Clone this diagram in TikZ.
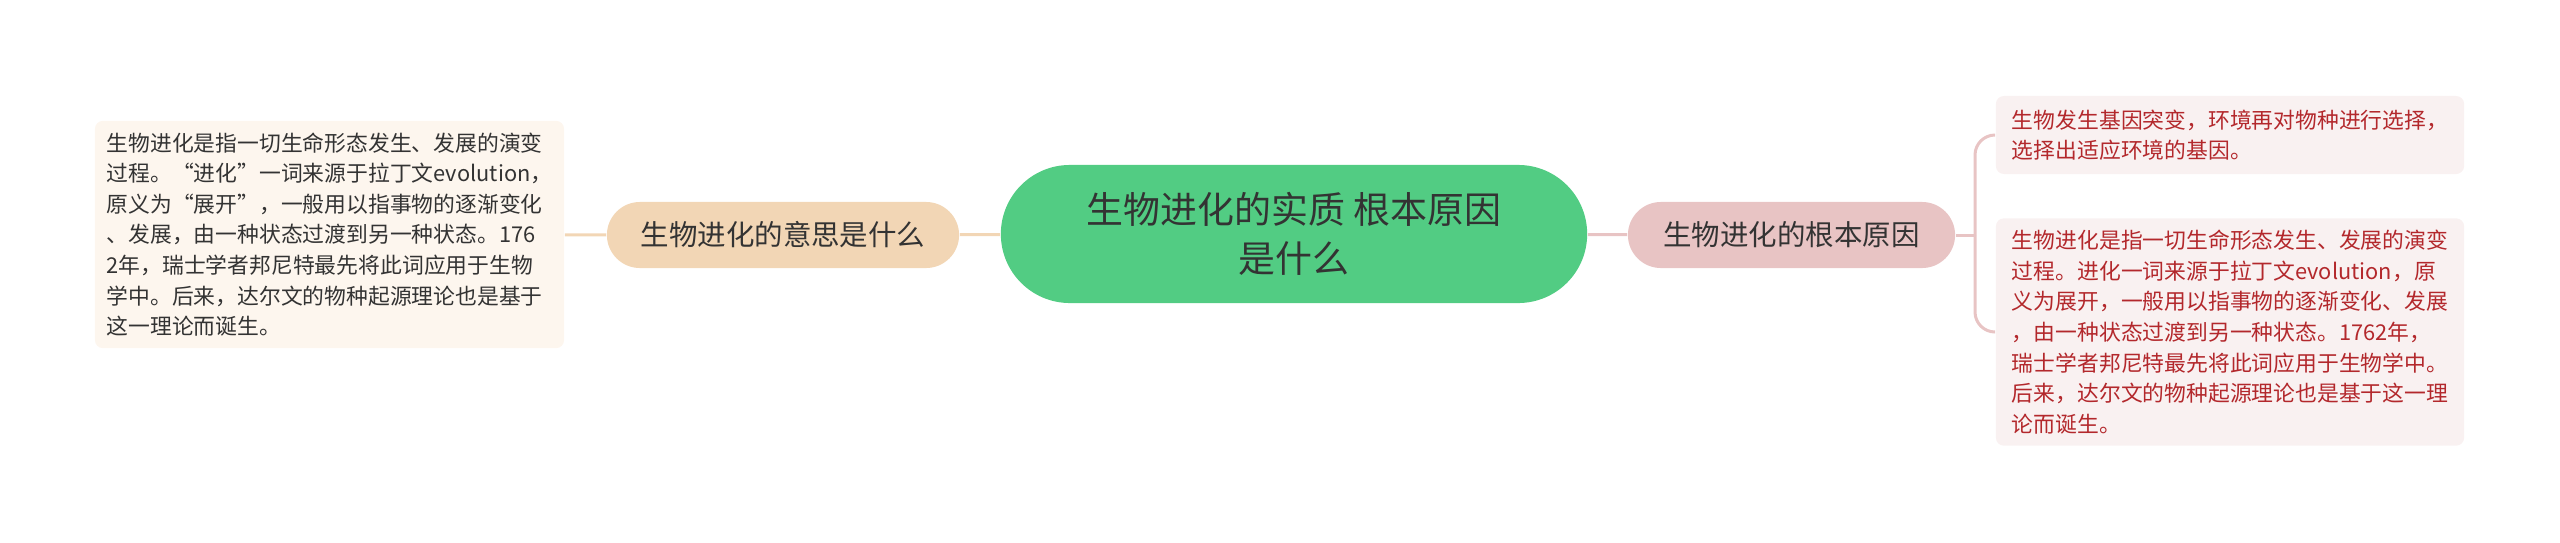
\documentclass[tikz,border=0pt]{standalone}
\usepackage{fontspec}
\setmainfont{Noto Sans CJK SC}
\usepackage{xcolor}
\usetikzlibrary{calc}
\definecolor{rootgreen}{HTML}{52CC83}
\definecolor{peach}{HTML}{F2D6B5}
\definecolor{peachleaf}{HTML}{FDF6EE}
\definecolor{rose}{HTML}{E8C4C4}
\definecolor{roseleaf}{HTML}{F9F1F1}
\definecolor{rosetext}{HTML}{B3282C}
\definecolor{ink}{HTML}{333333}
\tikzstyle{root}=[fill=rootgreen, rounded corners=0.69cm, minimum width=5.86cm, minimum height=1.38cm, align=center, text=ink, font=\fontsize{10.5pt}{14pt}\selectfont]
\tikzstyle{topic}=[rounded corners=0.33cm, minimum height=0.66cm, text=ink, font=\fontsize{8.1pt}{10pt}\selectfont]
\tikzstyle{leaf}=[rounded corners=0.08cm, minimum width=4.68cm, align=left, font=\fontsize{6.2pt}{8.7pt}\selectfont]
\tikzstyle{link}=[line width=0.03cm]

\begin{document}
\begin{tikzpicture}[x=0.01cm,y=-0.01cm]
\useasboundingbox (0,0) rectangle (2560,542);
\node[root] (root) at (1294,234) {生物进化的实质 根本原因\\是什么};
\node[topic, fill=peach, minimum width=3.52cm] (meaning) at (783,235) {生物进化的意思是什么};
\node[topic, fill=rose, minimum width=3.27cm] (cause) at (1791.5,235) {生物进化的根本原因};
\node[leaf, fill=peachleaf, text=ink, minimum height=2.21cm] (m1) at (329.5,234.5)
  {生物进化是指一切生命形态发生、发展的演变\\
   过程。“进化”一词来源于拉丁文evolution，\\
   原义为“展开”，一般用以指事物的逐渐变化\\
   、发展，由一种状态过渡到另一种状态。176\\
   2年，瑞士学者邦尼特最先将此词应用于生物\\
   学中。后来，达尔文的物种起源理论也是基于\\
   这一理论而诞生。};
\node[leaf, fill=roseleaf, text=rosetext, minimum height=0.78cm] (c1) at (2230,135)
  {生物发生基因突变，环境再对物种进行选择，\\
   选择出适应环境的基因。};
\node[leaf, fill=roseleaf, text=rosetext, minimum height=2.16cm] (c2) at (2230,332)
  {生物进化是指一切生命形态发生、发展的演变\\
   过程。进化一词来源于拉丁文evolution，原\\
   义为展开，一般用以指事物的逐渐变化、发展\\
   ，由一种状态过渡到另一种状态。1762年，\\
   瑞士学者邦尼特最先将此词应用于生物学中。\\
   后来，达尔文的物种起源理论也是基于这一理\\
   论而诞生。};
% left side
\draw[link, peach] (root) -- (meaning);
\draw[link, peach] (meaning) -- (m1);
% right side
\coordinate (fork) at (1975,235);
\draw[link, rose] (root) -- (cause);
\draw[link, rose] (cause.east) -- (fork);
\draw[link, rose, rounded corners=0.2cm] (fork) |- (c1.west);
\draw[link, rose, rounded corners=0.2cm] (fork) |- (c2.west);
\end{tikzpicture}
\end{document}
